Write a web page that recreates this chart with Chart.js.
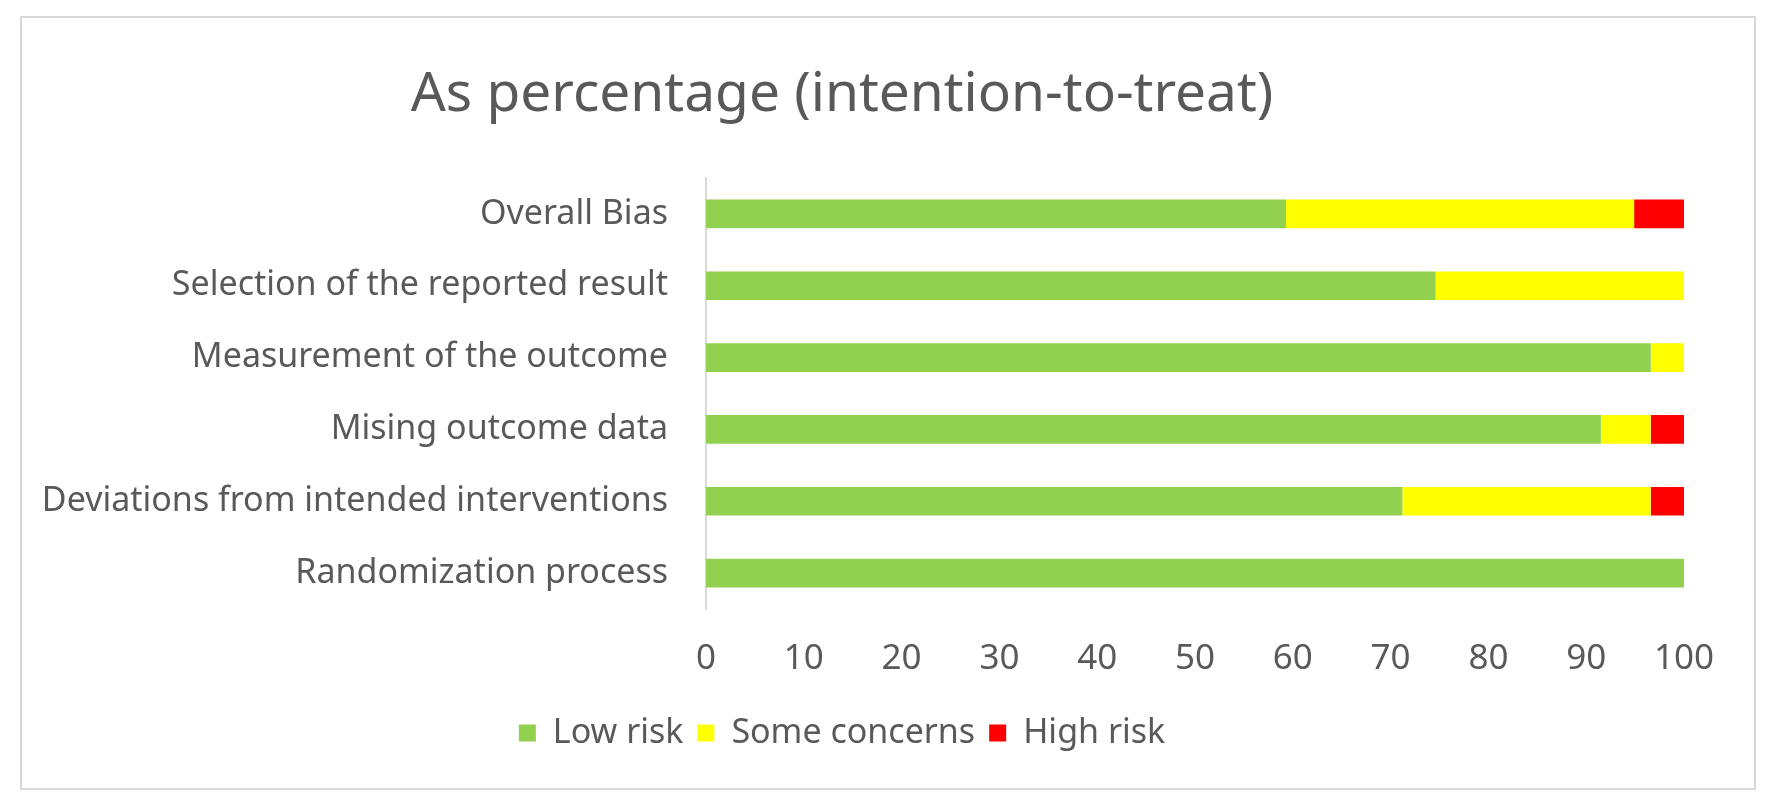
<!DOCTYPE html>
<html>
<head>
<meta charset="utf-8">
<script src="https://cdn.jsdelivr.net/npm/chart.js@4"></script>
<style>
  html, body { margin: 0; padding: 0; background: #fff; overflow: hidden; }
  #frame { position: absolute; left: 20px; top: 16px; width: 1736px; height: 774px; border: 2px solid #d9d9d9; box-sizing: border-box; }
  #wrap { position: absolute; left: 0; top: 0; width: 1778px; height: 808px; }
</style>
</head>
<body>
<div id="frame"></div>
<div id="wrap"><canvas id="riskChart"></canvas></div>
<script>
// domains, top to bottom
const domains = ['Overall Bias', 'Selection of the reported result', 'Measurement of the outcome',
  'Mising outcome data', 'Deviations from intended interventions', 'Randomization process'];
// percentages
const lowRisk = [59.3, 74.6, 96.6, 91.5, 71.2, 100];
const someConcerns = [35.6, 25.4, 3.4, 5.1, 25.4, 0];
const highRisk = [5.1, 0, 0, 3.4, 3.4, 0];
const xTicks = [0, 10, 20, 30, 40, 50, 60, 70, 80, 90, 100];

const textColor = '#595959';
const fontFamily = '"Noto Sans", sans-serif';

new Chart(document.getElementById('riskChart'), {
  type: 'bar',
  data: {
    labels: domains,
    datasets: [
      { label: 'Low risk', data: lowRisk, backgroundColor: '#92d050' },
      { label: 'Some concerns', data: someConcerns, backgroundColor: '#ffff00' },
      { label: 'High risk', data: highRisk, backgroundColor: '#ff0000' }
    ]
  },
  options: {
    indexAxis: 'y',
    responsive: true,
    maintainAspectRatio: false,
    animation: false,
    categoryPercentage: 1,
    barPercentage: 0.4,
    layout: { padding: { left: 0, right: 94, top: 0, bottom: 48 } },
    scales: {
      x: {
        stacked: true, min: 0, max: 100,
        afterBuildTicks: s => { s.ticks = xTicks.map(v => ({ value: v })); },
        afterFit: s => { s.height = 93; },
        grid: { display: false },
        border: { display: false },
        ticks: { color: textColor, padding: 21, font: { family: fontFamily, size: 35 } }
      },
      y: {
        stacked: true,
        afterFit: s => { s.width = 706; },
        grid: { display: false },
        border: { display: true, color: '#d9d9d9', width: 2 },
        ticks: { color: textColor, padding: 30, font: { family: fontFamily, size: 34 } }
      }
    },
    plugins: {
      title: {
        display: true,
        text: 'As percentage (intention-to-treat)',
        color: textColor,
        font: { family: fontFamily, size: 55, weight: 'normal' },
        padding: { top: 62, bottom: 50 }
      },
      legend: {
        position: 'bottom',
        labels: { color: textColor, boxWidth: 17, boxHeight: 17, padding: 14,
          font: { family: fontFamily, size: 34 } }
      },
      tooltip: { enabled: false }
    }
  }
});
</script>
</body>
</html>
